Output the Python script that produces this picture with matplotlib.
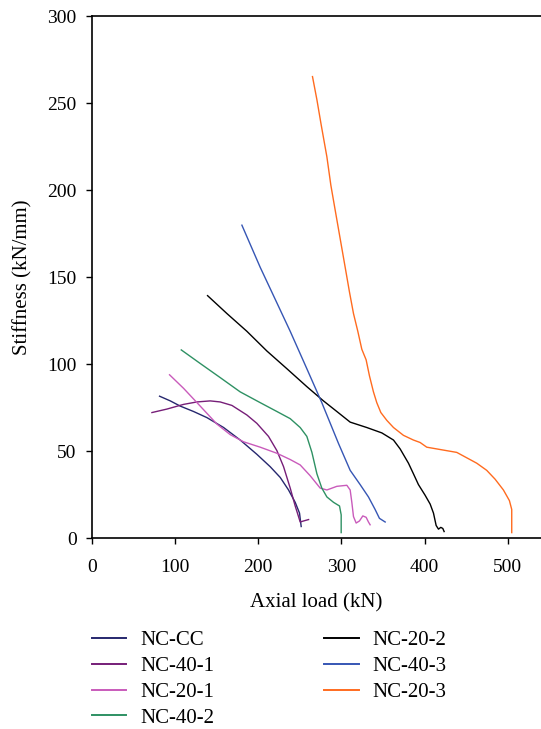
import matplotlib
matplotlib.use("Agg")
import matplotlib.pyplot as plt

plt.rcParams['font.family'] = ['Liberation Serif', 'DejaVu Serif']

# axial load (kN) / stiffness (kN/mm)
cc_x = [81.3, 94.2, 106.2, 122.2, 138.2, 158.3, 178.3, 198.3, 214.3, 226.4, 236.4, 244.4, 249.6, 251.6]
cc_y = [81.5, 78.8, 75.8, 72.7, 69.2, 63.5, 56.3, 48.1, 41.0, 34.8, 27.6, 20.5, 14.3, 6.6]

n401_x = [72.1, 90.1, 110.2, 126.2, 142.2, 154.2, 168.3, 186.3, 198.3, 212.3, 222.4, 230.4, 238.4, 244.4, 248.4, 250.4, 254.5, 260.5]
n401_y = [72.1, 74.1, 76.8, 78.2, 78.8, 78.2, 76.2, 70.7, 65.9, 58.4, 50.2, 41.0, 28.7, 18.4, 12.3, 9.2, 9.8, 10.6]

n201_x = [93.3, 110.2, 130.2, 150.2, 166.3, 182.3, 202.3, 222.4, 238.4, 250.4, 262.4, 274.4, 282.5, 294.5, 306.5, 310.5, 312.5, 314.5, 317.7, 321.7, 325.7, 329.7, 332.5, 334.5]
n201_y = [93.8, 86.0, 75.8, 65.5, 59.4, 55.3, 52.2, 48.7, 45.1, 42.0, 35.8, 28.7, 27.6, 29.7, 30.3, 27.6, 20.5, 12.3, 8.6, 9.8, 12.7, 11.9, 9.2, 7.6]

n402_x = [107.4, 130.2, 154.2, 178.2, 202.3, 222.4, 238.4, 250.4, 258.4, 264.5, 270.5, 276.4, 282.5, 290.5, 297.7, 299.7, 299.7]
n402_y = [108.1, 100.3, 92.2, 84.0, 77.8, 72.7, 68.6, 63.5, 58.4, 49.2, 36.9, 28.7, 23.6, 20.5, 18.4, 13.3, 3.1]

n202_x = [139.0, 162.3, 186.3, 210.3, 234.4, 258.4, 278.4, 294.5, 310.5, 330.5, 348.6, 362.6, 370.6, 380.6, 386.6, 392.6, 400.6, 406.7, 410.7, 413.9, 416.7, 419.5, 421.9, 423.5]
n202_y = [139.3, 129.0, 118.8, 107.5, 97.3, 87.0, 78.8, 72.7, 66.6, 63.5, 60.4, 56.3, 51.2, 43.0, 36.9, 30.7, 24.6, 19.5, 14.3, 7.2, 5.1, 6.1, 5.5, 3.7]

n403_x = [180.3, 202.3, 218.3, 238.4, 258.4, 276.4, 296.5, 310.5, 322.5, 332.5, 340.5, 345.7, 352.6]
n403_y = [179.8, 155.6, 139.3, 118.8, 97.3, 77.8, 54.3, 38.9, 30.7, 23.6, 16.4, 11.3, 9.2]

n203_x = [265.2, 270.5, 275.6, 282.5, 287.3, 292.5, 298.5, 304.5, 309.7, 314.5, 319.7, 324.5, 329.7, 333.7, 338.5, 342.5, 347.4, 354.6, 362.6, 374.6, 386.6, 394.6, 402.6, 414.6, 426.6, 438.7, 450.7, 462.7, 474.7, 484.8, 494.8, 502.0, 504.8, 504.8]
n203_y = [265.2, 251.9, 237.6, 219.1, 202.7, 188.4, 172.0, 155.6, 141.3, 129.0, 118.8, 108.5, 102.4, 93.2, 84.0, 77.8, 72.1, 67.6, 63.5, 59.0, 56.3, 54.9, 52.2, 51.2, 50.2, 49.2, 46.1, 43.0, 38.9, 33.8, 27.6, 21.5, 16.4, 3.1]

series = [
    ("NC-CC", cc_x, cc_y, "#26276e"),
    ("NC-40-1", n401_x, n401_y, "#761e78"),
    ("NC-20-1", n201_x, n201_y, "#c95bbb"),
    ("NC-40-2", n402_x, n402_y, "#2e9163"),
    ("NC-20-2", n202_x, n202_y, "#000000"),
    ("NC-40-3", n403_x, n403_y, "#3656b4"),
    ("NC-20-3", n203_x, n203_y, "#ff6b1f"),
]

fig = plt.figure(figsize=(5.41, 7.29), dpi=100)
ax = fig.add_axes([0.170, 0.262, 0.830, 0.716])

for name, xs, ys, col in series:
    ax.plot(xs, ys, color=col, lw=1.0, label=name)

ax.set_xlim(0, 540)
ax.set_ylim(0, 300)
ax.set_xticks([0, 100, 200, 300, 400, 500])
ax.set_yticks([0, 50, 100, 150, 200, 250, 300])
ax.spines['right'].set_visible(False)
for s in ['left', 'bottom', 'top']:
    ax.spines[s].set_linewidth(1.2)
ax.tick_params(labelsize=14, width=1.0, length=4, direction='out')
ax.tick_params(axis='x', pad=11)
ax.tick_params(axis='y', pad=7)
ax.set_xlabel("Axial load (kN)", fontsize=15)
ax.set_ylabel("Stiffness (kN/mm)", fontsize=15)
ax.xaxis.set_label_coords(0.5, -0.106)
ax.yaxis.set_label_coords(-0.132, 0.5)

leg = fig.legend(loc='upper left', bbox_to_anchor=(0.170, 0.135), ncol=2, frameon=False,
                 fontsize=15, handlelength=1.65, handletextpad=0.65, labelspacing=0.3,
                 columnspacing=5.3, borderpad=0, borderaxespad=0)
for h in leg.get_lines():
    h.set_linewidth(1.4)

fig.savefig("out.png", dpi=100)
